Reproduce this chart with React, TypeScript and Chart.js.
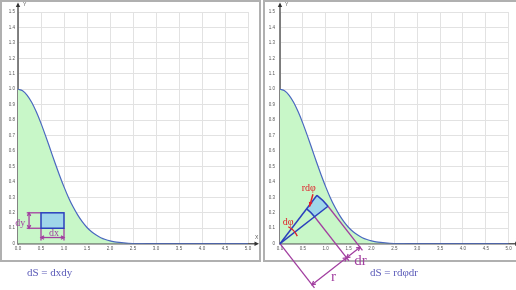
import React, { useEffect, useRef } from "react";
import { Chart, registerables } from "chart.js";
Chart.register(...registerables);

// ---- data ----
const curveX = [0, 0.1, 0.2, 0.3, 0.4, 0.5, 0.6, 0.7, 0.8, 0.9, 1.0, 1.1, 1.2, 1.3, 1.4, 1.5, 1.6, 1.7, 1.8, 1.9, 2.0, 2.1, 2.2, 2.3, 2.4, 2.6, 2.8, 3.0, 3.5, 4.0, 4.5, 5.0];
const curveY = [1.0, 0.990, 0.961, 0.914, 0.852, 0.779, 0.698, 0.613, 0.527, 0.445, 0.368, 0.298, 0.237, 0.185, 0.141, 0.105, 0.077, 0.056, 0.039, 0.027, 0.018, 0.012, 0.008, 0.005, 0.003, 0.001, 0.0004, 0, 0, 0, 0, 0];
const xRange = [0, 5];
const yRange = [0, 1.5];
const xStep = 0.5;
const yStep = 0.1;

// left panel annotation (cartesian element)
const rectX = [0.5, 1.0];
const rectY = [0.1, 0.2];
const dyExtX = 0.19;
const dyArrowX = 0.24;
const dyLabelPos = [0.16, 0.115];
const dxExtBottom = 0.02;
const dxArrowY = 0.04;
const dxLabelPos = [0.78, 0.05];

// right panel annotation (polar element)
const wedgeOuterUpper = [0.8, 0.31];
const wedgeOuterLower = [1.06, 0.245];
const wedgeInnerRatio = 0.72;
const rdphiLabelPos = [0.63, 0.357];
const rdphiArrow = [[0.72, 0.32], [0.645, 0.24]];
const dphiLabelPos = [0.18, 0.14];

const leftFormula = "dS = dxdy";
const rightFormula = "dS = rdφdr";

const PURPLE = "#a23fa0";
const BLUE = "#2b40bd";
const WEDGE_FILL = "#9fd6ea";
const RED = "#e0202a";
const FORMULA = "#5a5ab8";
const SERIF = "'Liberation Serif', 'DejaVu Serif', serif";

function line(ctx: CanvasRenderingContext2D, x1: number, y1: number, x2: number, y2: number) {
  ctx.beginPath();
  ctx.moveTo(x1, y1);
  ctx.lineTo(x2, y2);
  ctx.stroke();
}

function head(ctx: CanvasRenderingContext2D, x1: number, y1: number, x2: number, y2: number, size = 4) {
  const a = Math.atan2(y2 - y1, x2 - x1);
  ctx.beginPath();
  ctx.moveTo(x2 - size * Math.cos(a - 0.5), y2 - size * Math.sin(a - 0.5));
  ctx.lineTo(x2, y2);
  ctx.lineTo(x2 - size * Math.cos(a + 0.5), y2 - size * Math.sin(a + 0.5));
  ctx.stroke();
}

function dblArrow(ctx: CanvasRenderingContext2D, x1: number, y1: number, x2: number, y2: number, size = 4) {
  line(ctx, x1, y1, x2, y2);
  head(ctx, x1, y1, x2, y2, size);
  head(ctx, x2, y2, x1, y1, size);
}

const axesPlugin = {
  id: "axesArrows",
  beforeDatasetsDraw(chart: any) {
    const { ctx, chartArea } = chart;
    const ys = chart.scales.y;
    const L = chartArea.left;
    const R = chartArea.right;
    const y0 = ys.getPixelForValue(0);
    ctx.save();
    ctx.strokeStyle = "#5a5a5a";
    ctx.fillStyle = "#333";
    ctx.lineWidth = 1.5;
    line(ctx, L, y0 + 1, L, 6);
    ctx.beginPath();
    ctx.moveTo(L, 2.5);
    ctx.lineTo(L - 2.2, 7);
    ctx.lineTo(L + 2.2, 7);
    ctx.closePath();
    ctx.fill();
    line(ctx, L, y0, R + 8, y0);
    ctx.beginPath();
    ctx.moveTo(R + 11, y0);
    ctx.lineTo(R + 6.5, y0 - 2.2);
    ctx.lineTo(R + 6.5, y0 + 2.2);
    ctx.closePath();
    ctx.fill();
    ctx.fillStyle = "#555";
    ctx.font = "5px 'Liberation Sans', sans-serif";
    ctx.textBaseline = "middle";
    ctx.textAlign = "left";
    ctx.fillText("Y", L + 5, 4.5);
    ctx.fillText("X", R + 7, y0 - 6.5);
    ctx.restore();
  },
};

const leftOverlay = {
  id: "leftOverlay",
  afterDatasetsDraw(chart: any) {
    const { ctx, chartArea } = chart;
    const X = (v: number) => chart.scales.x.getPixelForValue(v);
    const Y = (v: number) => chart.scales.y.getPixelForValue(v);
    ctx.save();
    const x0 = X(rectX[0]), x1 = X(rectX[1]);
    const yt = Y(rectY[1]), yb = Y(rectY[0]);
    ctx.fillStyle = WEDGE_FILL;
    ctx.fillRect(x0, yt, x1 - x0, yb - yt);
    ctx.strokeStyle = PURPLE;
    ctx.lineWidth = 1.3;
    line(ctx, X(dyExtX), yt, x0, yt);
    line(ctx, X(dyExtX), yb, x0, yb);
    dblArrow(ctx, X(dyArrowX), yt, X(dyArrowX), yb, 3.5);
    line(ctx, x0, yb, x0, Y(dxExtBottom));
    line(ctx, x1, yb, x1, Y(dxExtBottom));
    dblArrow(ctx, x0, Y(dxArrowY), x1, Y(dxArrowY), 3.5);
    ctx.strokeStyle = BLUE;
    ctx.lineWidth = 1.5;
    ctx.strokeRect(x0, yt, x1 - x0, yb - yt);
    ctx.fillStyle = PURPLE;
    ctx.font = `10px ${SERIF}`;
    ctx.textBaseline = "alphabetic";
    ctx.textAlign = "right";
    ctx.fillText("dy", X(dyLabelPos[0]), Y(dyLabelPos[1]));
    ctx.textAlign = "center";
    ctx.fillText("dx", X(dxLabelPos[0]), Y(dxLabelPos[1]));
    ctx.fillStyle = FORMULA;
    ctx.font = `11px ${SERIF}`;
    ctx.textAlign = "left";
    ctx.fillText(leftFormula, chartArea.left + 9, 276);
    ctx.restore();
  },
};

const rightOverlay = {
  id: "rightOverlay",
  afterDatasetsDraw(chart: any) {
    const { ctx, chartArea } = chart;
    const X = (v: number) => chart.scales.x.getPixelForValue(v);
    const Y = (v: number) => chart.scales.y.getPixelForValue(v);
    const ox = X(0), oy = Y(0);
    const ux = X(wedgeOuterUpper[0]) - ox, uy = Y(wedgeOuterUpper[1]) - oy;
    const lx = X(wedgeOuterLower[0]) - ox, ly = Y(wedgeOuterLower[1]) - oy;
    const au = Math.atan2(uy, ux);
    const al = Math.atan2(ly, lx);
    const R = (Math.hypot(ux, uy) + Math.hypot(lx, ly)) / 2;
    const Rin = R * wedgeInnerRatio;
    ctx.save();
    ctx.beginPath();
    ctx.arc(ox, oy, R, au, al, false);
    ctx.arc(ox, oy, Rin, al, au, true);
    ctx.closePath();
    ctx.fillStyle = WEDGE_FILL;
    ctx.fill();
    const u = [Math.cos(al), Math.sin(al)];
    const n = [-Math.sin(al), Math.cos(al)];
    const P = (along: number, off: number) => [ox + along * u[0] + off * n[0], oy + along * u[1] + off * n[1]];
    ctx.strokeStyle = PURPLE;
    ctx.lineWidth = 1.3;
    for (const r of [0, Rin, R]) {
      const a = P(r, 0), b = P(r, 56);
      line(ctx, a[0], a[1], b[0], b[1]);
    }
    let a = P(0, 52), b = P(Rin, 52);
    dblArrow(ctx, a[0], a[1], b[0], b[1], 4);
    a = P(Rin, 52); b = P(R, 52);
    dblArrow(ctx, a[0], a[1], b[0], b[1], 4);
    ctx.strokeStyle = BLUE;
    ctx.lineWidth = 1.5;
    ctx.beginPath();
    ctx.arc(ox, oy, R, au, al, false);
    ctx.stroke();
    ctx.beginPath();
    ctx.arc(ox, oy, Rin, au, al, false);
    ctx.stroke();
    line(ctx, ox, oy, ox + R * Math.cos(au), oy + R * Math.sin(au));
    line(ctx, ox, oy, ox + R * Math.cos(al), oy + R * Math.sin(al));
    ctx.fillStyle = PURPLE;
    ctx.font = `15px ${SERIF}`;
    ctx.textAlign = "center";
    ctx.textBaseline = "middle";
    let t = P(Rin / 2, 59);
    ctx.fillText("r", t[0], t[1]);
    t = P((Rin + R) / 2 + 0.5, 63);
    ctx.fillText("dr", t[0], t[1]);
    ctx.strokeStyle = RED;
    ctx.lineWidth = 1.3;
    ctx.beginPath();
    ctx.arc(ox, oy, R * 0.31, au - 0.2, al + 0.25, false);
    ctx.stroke();
    const s = [X(rdphiArrow[0][0]), Y(rdphiArrow[0][1])];
    const e = [X(rdphiArrow[1][0]), Y(rdphiArrow[1][1])];
    ctx.lineWidth = 1.5;
    line(ctx, s[0], s[1], e[0], e[1]);
    ctx.fillStyle = RED;
    const ang = Math.atan2(e[1] - s[1], e[0] - s[0]);
    ctx.beginPath();
    ctx.moveTo(e[0], e[1]);
    ctx.lineTo(e[0] - 5 * Math.cos(ang - 0.4), e[1] - 5 * Math.sin(ang - 0.4));
    ctx.lineTo(e[0] - 5 * Math.cos(ang + 0.4), e[1] - 5 * Math.sin(ang + 0.4));
    ctx.closePath();
    ctx.fill();
    ctx.font = `10px ${SERIF}`;
    ctx.fillText("rdφ", X(rdphiLabelPos[0]), Y(rdphiLabelPos[1]));
    ctx.fillText("dφ", X(dphiLabelPos[0]), Y(dphiLabelPos[1]));
    ctx.fillStyle = FORMULA;
    ctx.font = `11px ${SERIF}`;
    ctx.textAlign = "left";
    ctx.textBaseline = "alphabetic";
    ctx.fillText(rightFormula, chartArea.left + 90, 276);
    ctx.restore();
  },
};

function makeConfig(rightPad: number, yPad: number, overlay: any): any {
  const points = curveX.map((x, i) => ({ x, y: curveY[i] }));
  return {
    type: "line",
    data: {
      datasets: [
        {
          data: points,
          borderColor: "#4a68c0",
          borderWidth: 1.2,
          backgroundColor: "#c8f7c8",
          fill: "origin",
          pointRadius: 0,
          cubicInterpolationMode: "monotone",
        },
      ],
    },
    options: {
      animation: false,
      responsive: false,
      devicePixelRatio: 1,
      layout: { padding: { left: 0, top: 12, right: rightPad, bottom: 290 - 243.7 - 12 } },
      plugins: { legend: { display: false }, tooltip: { enabled: false } },
      scales: {
        x: {
          type: "linear",
          min: xRange[0],
          max: xRange[1],
          afterFit: (s: any) => {
            s.height = 12;
          },
          border: { display: false },
          grid: { color: "#e2e2e2", drawTicks: false, lineWidth: 1 },
          ticks: {
            stepSize: xStep,
            autoSkip: false,
            maxRotation: 0,
            padding: 2,
            color: "#555",
            font: { size: 4.5, family: "'Liberation Sans', sans-serif" },
            callback: (v: number) => v.toFixed(1),
          },
        },
        y: {
          type: "linear",
          min: yRange[0],
          max: yRange[1],
          afterFit: (s: any) => {
            s.width = 18;
          },
          border: { display: false },
          grid: { color: "#e2e2e2", drawTicks: false, lineWidth: 1 },
          ticks: {
            stepSize: yStep,
            autoSkip: false,
            padding: yPad,
            color: "#555",
            font: { size: 4.5, family: "'Liberation Sans', sans-serif" },
            callback: (v: number) => (Math.abs(v) < 1e-9 ? "0" : v.toFixed(1)),
          },
        },
      },
    },
    plugins: [axesPlugin, overlay],
  };
}

function Panel({ left, width, rightPad, yPad, overlay }: any) {
  const ref = useRef<HTMLCanvasElement | null>(null);
  useEffect(() => {
    if (!ref.current) return;
    const chart = new Chart(ref.current, makeConfig(rightPad, yPad, overlay));
    return () => chart.destroy();
  }, []);
  return (
    <canvas
      ref={ref}
      width={width}
      height={290}
      style={{ position: "absolute", left, top: 0, width, height: 290 }}
    />
  );
}

export default function App() {
  return (
    <div style={{ position: "fixed", left: 0, top: 0, width: 516, height: 290, background: "#fff", overflow: "hidden" }}>
      <div style={{ position: "absolute", left: 0, top: 0, width: 261, height: 262, boxSizing: "border-box", border: "2px solid #b0b0b0" }} />
      <div style={{ position: "absolute", left: 263, top: 0, width: 270, height: 262, boxSizing: "border-box", border: "2px solid #b0b0b0" }} />
      <Panel left={0} width={262} rightPad={14} yPad={3} overlay={leftOverlay} />
      <Panel left={262} width={254} rightPad={7.3} yPad={5} overlay={rightOverlay} />
    </div>
  );
}
